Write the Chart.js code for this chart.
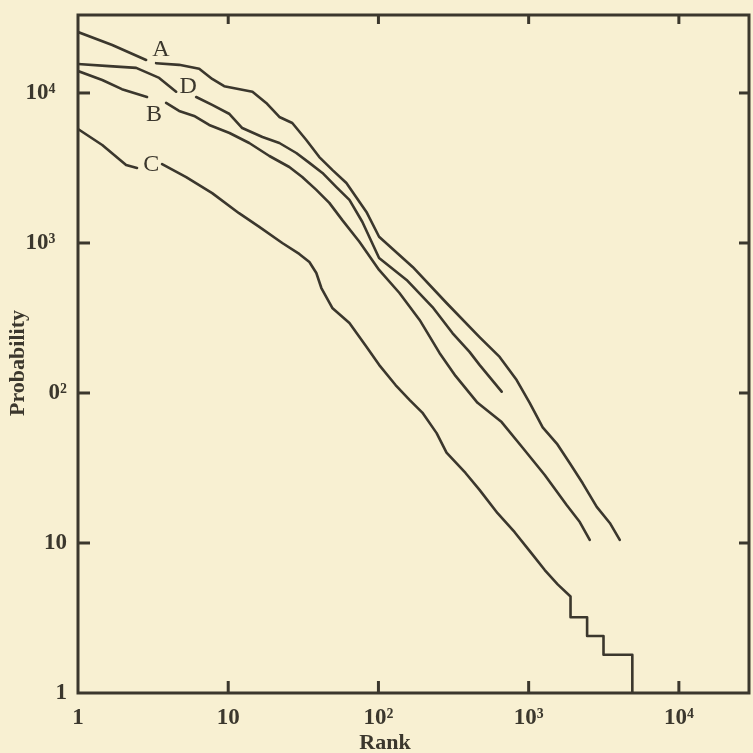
<!DOCTYPE html>
<html>
<head>
<meta charset="utf-8">
<script src="https://cdn.jsdelivr.net/npm/chart.js@4/dist/chart.umd.min.js"></script>
<style>
  html, body { margin: 0; padding: 0; background: #f8f0d2; }
  canvas { display: block; }
</style>
</head>
<body>
<canvas id="chart" width="753" height="753"></canvas>
<script>
// ===== DATA =====
// null marks the break in each curve where its letter sits
const rankA = [1, 1.69, 2.84, 3.1, 3.31, 4.71, 6.41, 7.82, 9.4, 14.5, 17.9, 21.9, 26.7, 33.1, 40.4, 49.3, 61.2, 83.2, 101, 169, 284, 471, 641, 832, 1016, 1240, 1540, 1880, 2290, 2840, 3470, 4040];
const probA = [25500, 20900, 16600, null, 15800, 15400, 14500, 12400, 11100, 10200, 8580, 6920, 6310, 4860, 3740, 3070, 2510, 1610, 1100, 692, 398, 236, 174, 122, 86, 59, 46, 34, 25, 17.4, 13.6, 10.5];

const rankB = [1, 1.45, 1.96, 2.88, 3.3, 3.86, 4.71, 5.93, 7.47, 10.2, 13.8, 18.8, 25.5, 31.1, 38.6, 47.1, 57.5, 74.7, 101, 138, 188, 255, 326, 457, 661, 898, 1280, 1790, 2190, 2550];
const probB = [14000, 12200, 10600, 9400, null, 8580, 7590, 7030, 6120, 5410, 4640, 3800, 3210, 2750, 2260, 1850, 1420, 1020, 661, 464, 307, 185, 130, 86, 64, 44, 28.4, 17.9, 13.8, 10.5];

const rankC = [1, 1.45, 2.09, 2.47, 3.0, 3.63, 5.25, 7.82, 11.8, 16.1, 22.9, 29.7, 34.7, 38.6, 41.7, 49.3, 64.1, 83.2, 101, 130, 161, 196, 244, 284, 380, 471, 621, 807, 1030, 1280, 1560, 1900, 1900, 2450, 2450, 3150, 3150, 4900, 4900];
const probC = [5750, 4500, 3310, 3160, null, 3360, 2750, 2150, 1580, 1280, 1000, 845, 747, 631, 501, 369, 293, 203, 154, 113, 90, 74, 54, 40, 29.3, 22.6, 15.8, 11.8, 8.7, 6.6, 5.3, 4.4, 3.2, 3.2, 2.4, 2.4, 1.8, 1.8, 1];

const rankD = [1, 1.61, 2.44, 3.47, 4.5, 5.3, 6.12, 7.82, 10.2, 12.4, 16.9, 21.9, 28.4, 34.7, 42.4, 52.5, 64.1, 78.2, 101, 154, 229, 311, 404, 471, 661];
const probD = [15600, 15100, 14700, 12600, 10200, null, 9400, 8320, 7240, 5840, 5090, 4640, 3980, 3420, 2930, 2360, 1940, 1380, 794, 567, 374, 251, 188, 154, 102];

const curveNames = ['A', 'B', 'C', 'D'];
const nameRank = [3.57, 3.21, 3.07, 5.41];
const nameProb = [19400, 7130, 3310, 10960];

const xTicks = [1, 10, 100, 1000, 10000];
const xTickLabels = ['1', '10', '10²', '10³', '10⁴'];
const yTicks = [1, 10, 100, 1000, 10000];
const yTickLabels = ['1', '10', '0²', '10³\u2002', '10⁴\u2002'];

const INK = '#3b372d';
const SERIF = '"Liberation Serif", "DejaVu Serif", serif';

// ===== HELPERS =====
function toPoints(ranks, probs) {
  return ranks.map((r, i) => ({ x: r, y: probs[i] }));
}

function curve(ranks, probs) {
  return {
    data: toPoints(ranks, probs),
    showLine: true,
    borderColor: INK,
    borderWidth: 2.6,
    pointRadius: 0,
    tension: 0,
    spanGaps: false,
    borderJoinStyle: 'round',
    borderCapStyle: 'round'
  };
}

// frame, inward ticks, curve letters and axis titles
const framePlugin = {
  id: 'frame',
  afterDatasetsDraw(chart) {
    const { ctx, chartArea: a, scales: { x, y } } = chart;
    ctx.save();
    ctx.strokeStyle = INK;
    ctx.lineWidth = 3;
    ctx.strokeRect(a.left, a.top, a.right - a.left, a.bottom - a.top);

    const seg = (x1, y1, x2, y2) => { ctx.beginPath(); ctx.moveTo(x1, y1); ctx.lineTo(x2, y2); ctx.stroke(); };
    xTicks.slice(1).forEach(v => {
      const px = x.getPixelForValue(v);
      seg(px, a.bottom, px, a.bottom - 12);
      seg(px, a.top, px, a.top + 9);
    });
    yTicks.slice(1).forEach(v => {
      const py = y.getPixelForValue(v);
      seg(a.left, py, a.left + 12, py);
      seg(a.right, py, a.right - 10, py);
    });

    ctx.fillStyle = INK;
    ctx.textAlign = 'center';
    ctx.textBaseline = 'middle';
    ctx.font = '24px ' + SERIF;
    curveNames.forEach((n, i) => {
      ctx.fillText(n, x.getPixelForValue(nameRank[i]), y.getPixelForValue(nameProb[i]));
    });

    ctx.font = 'bold 22px ' + SERIF;
    ctx.fillText('Rank', 385, 743);
    ctx.translate(18, 363);
    ctx.rotate(-Math.PI / 2);
    ctx.fillText('Probability', 0, 0);
    ctx.restore();
  }
};

// ===== CHART =====
new Chart(document.getElementById('chart'), {
  type: 'scatter',
  data: {
    datasets: [curve(rankA, probA), curve(rankB, probB), curve(rankC, probC), curve(rankD, probD)]
  },
  options: {
    responsive: false,
    animation: false,
    devicePixelRatio: 1,
    layout: { padding: { top: 15, right: 4, left: 0, bottom: 0 } },
    plugins: { legend: { display: false }, tooltip: { enabled: false } },
    scales: {
      x: {
        type: 'logarithmic',
        min: 1,
        max: 29300,
        afterFit: s => { s.height = 60; s.paddingLeft = 0; s.paddingRight = 0; },
        afterBuildTicks: s => { s.ticks = xTicks.map(v => ({ value: v })); },
        grid: { display: false, drawTicks: false },
        border: { display: false },
        ticks: {
          autoSkip: false,
          maxRotation: 0,
          padding: 11,
          color: INK,
          font: { family: SERIF, size: 23, weight: 'bold' },
          callback: v => xTickLabels[xTicks.indexOf(v)] ?? ''
        }
      },
      y: {
        type: 'logarithmic',
        min: 1,
        max: 33100,
        afterFit: s => { s.width = 78; s.paddingTop = 0; s.paddingBottom = 0; },
        afterBuildTicks: s => { s.ticks = yTicks.map(v => ({ value: v })); },
        grid: { display: false, drawTicks: false },
        border: { display: false },
        ticks: {
          autoSkip: false,
          padding: 11,
          color: INK,
          font: { family: SERIF, size: 23, weight: 'bold' },
          callback: v => yTickLabels[yTicks.indexOf(v)] ?? ''
        }
      }
    }
  },
  plugins: [framePlugin]
});
</script>
</body>
</html>
